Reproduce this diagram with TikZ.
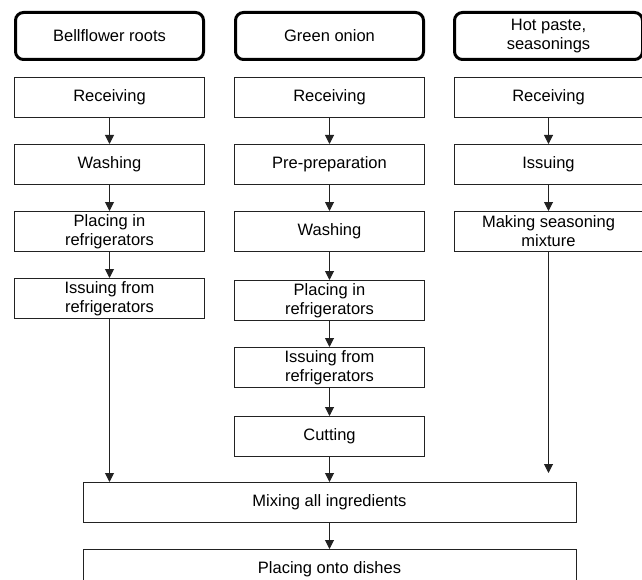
\documentclass[tikz,border=0pt]{standalone}
\usepackage{fontspec}
\setmainfont{Liberation Sans}
\usetikzlibrary{positioning,arrows.meta,calc}
\definecolor{edge}{HTML}{222222}

\begin{document}
\begin{tikzpicture}[
  x=1pt, y=1pt,
  font=\fontsize{16.5}{19}\selectfont,
  node distance=26pt and 29pt,
  head/.style={draw=black, line width=3pt, rounded corners=8pt, align=center, minimum width=188pt, minimum height=47pt, inner sep=2pt},
  stepbox/.style={draw=edge, line width=1pt, align=center, minimum width=190pt, minimum height=40pt, inner sep=1pt},
  wide/.style={stepbox, minimum width=493pt},
  arrow/.style={-{Triangle[width=9pt,length=9pt]}, line width=1pt, color=edge}
]
\useasboundingbox (0,0) rectangle (642,-580);

% Bellflower roots
\node[stepbox] (rec1) at (109.5,-97.5) {Receiving};
\node[head, above=16pt of rec1] (head1) {Bellflower roots};
\node[stepbox, below=of rec1] (wash1) {Washing};
\node[stepbox, below=of wash1] (place1) {Placing in\\refrigerators};
\node[stepbox, below=of place1] (issue1) {Issuing from\\refrigerators};

% Green onion
\node[stepbox, right=of rec1] (rec2) {Receiving};
\node[head, above=16pt of rec2] (head2) {Green onion};
\node[stepbox, below=of rec2] (prep2) {Pre-preparation};
\node[stepbox, below=of prep2] (wash2) {Washing};
\node[stepbox, below=28pt of wash2] (place2) {Placing in\\refrigerators};
\node[stepbox, below=of place2] (issue2) {Issuing from\\refrigerators};
\node[stepbox, below=28pt of issue2] (cut2) {Cutting};

% Hot paste, seasonings
\node[stepbox, minimum width=188pt, right=of rec2] (rec3) {Receiving};
\node[head, above=16pt of rec3] (head3) {Hot paste,\\seasonings};
\node[stepbox, minimum width=188pt, below=of rec3] (issue3) {Issuing};
\node[stepbox, minimum width=188pt, below=of issue3] (mix3) {Making seasoning\\mixture};

% common steps
\node[wide, below=25pt of cut2] (mix) {Mixing all ingredients};
\node[wide, below=of mix] (dish) {Placing onto dishes};

\coordinate (seasonend) at ($(mix3.south |- mix.north)+(0,9)$);

\draw[arrow] (rec1) -- (wash1);
\draw[arrow] (wash1) -- (place1);
\draw[arrow] (place1) -- (issue1);
\draw[arrow] (issue1.south) -- (issue1.south |- mix.north);

\draw[arrow] (rec2) -- (prep2);
\draw[arrow] (prep2) -- (wash2);
\draw[arrow] (wash2) -- (place2);
\draw[arrow] (place2) -- (issue2);
\draw[arrow] (issue2) -- (cut2);
\draw[arrow] (cut2) -- (mix);

\draw[arrow] (rec3) -- (issue3);
\draw[arrow] (issue3) -- (mix3);
\draw[arrow] (mix3.south) -- (seasonend);

\draw[arrow] (mix) -- (dish);
\end{tikzpicture}
\end{document}
